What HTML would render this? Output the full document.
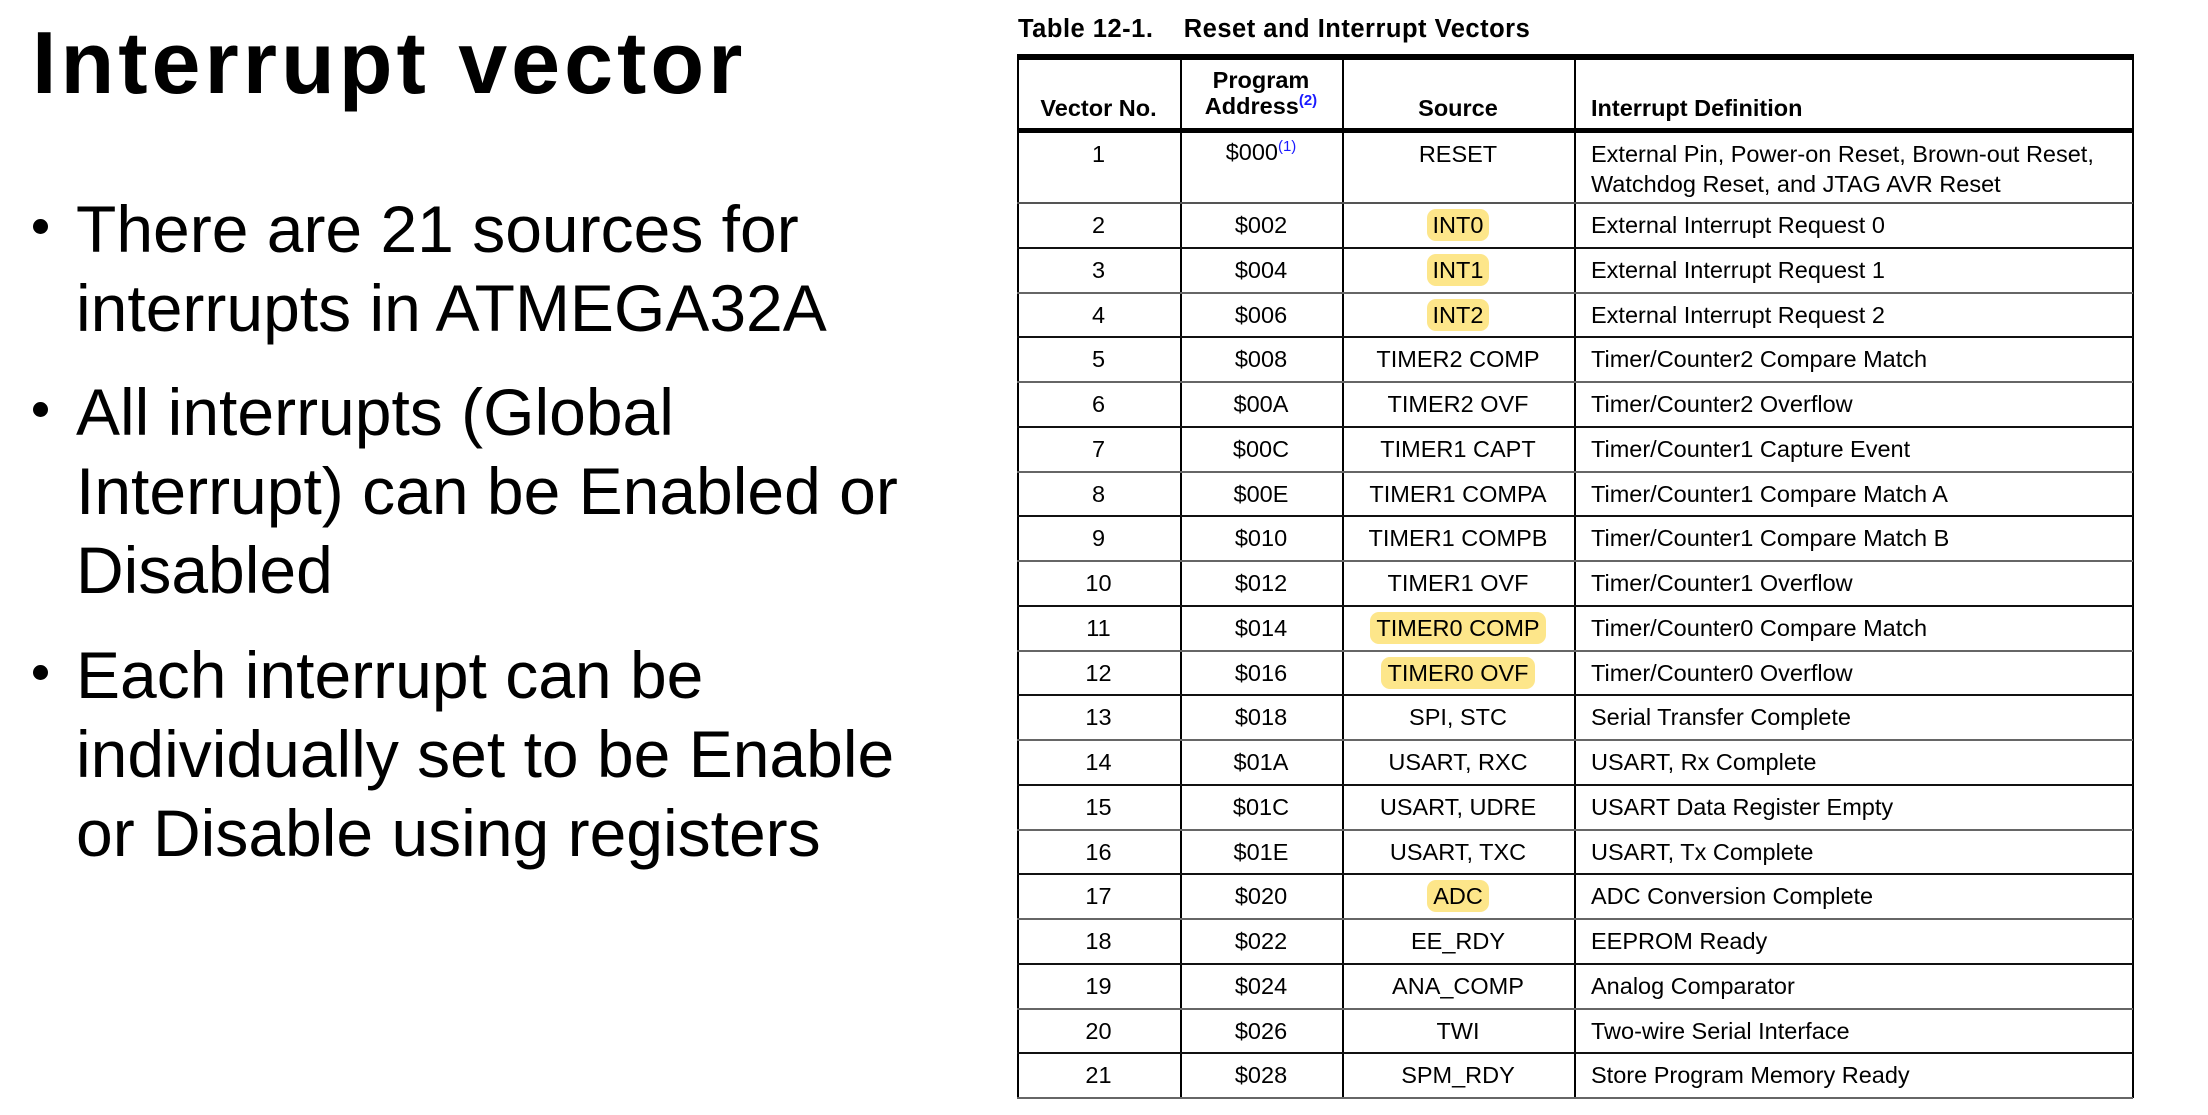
<!DOCTYPE html>
<html><head><meta charset="utf-8">
<style>
html,body{margin:0;padding:0;background:#fff;}
body{width:2208px;height:1115px;position:relative;overflow:hidden;font-family:"Liberation Sans",sans-serif;color:#000;}
.title{position:absolute;left:32px;top:12px;font-size:88px;font-weight:bold;letter-spacing:4px;white-space:nowrap;}
.bl{position:absolute;left:76px;font-size:66px;white-space:nowrap;line-height:79px;}
.dot{position:absolute;left:33px;width:15px;height:15px;border-radius:50%;background:#000;}
.tt{position:absolute;left:1018px;top:15px;font-size:25.5px;font-weight:bold;white-space:nowrap;letter-spacing:0.5px;}
.c{position:absolute;font-size:23.5px;white-space:nowrap;}
.hl{background:#fde68a;border-radius:9px;padding:3px 6px;}
.h{font-weight:bold;}
.ln{position:absolute;background:#000;}
sup{color:#1a1aff;font-size:15px;}
</style></head><body>
<div class="title">Interrupt vector</div>
<div class="dot" style="top:219px"></div>
<div class="bl" style="top:190px">There are 21 sources for<br>interrupts in ATMEGA32A</div>
<div class="dot" style="top:402px"></div>
<div class="bl" style="top:373px">All interrupts (Global<br>Interrupt) can be Enabled or<br>Disabled</div>
<div class="dot" style="top:665px"></div>
<div class="bl" style="top:636px">Each interrupt can be<br>individually set to be Enable<br>or Disable using registers</div>

<div class="tt">Table 12-1.&nbsp;&nbsp;&nbsp;&nbsp;Reset and Interrupt Vectors</div>
<div id="tbl"></div>
<script>
const vecs=["2","3","4","5","6","7","8","9","10","11","12","13","14","15","16","17","18","19","20","21"];
const addrs=["$002","$004","$006","$008","$00A","$00C","$00E","$010","$012","$014","$016","$018","$01A","$01C","$01E","$020","$022","$024","$026","$028"];
const srcs=["INT0","INT1","INT2","TIMER2 COMP","TIMER2 OVF","TIMER1 CAPT","TIMER1 COMPA","TIMER1 COMPB","TIMER1 OVF","TIMER0 COMP","TIMER0 OVF","SPI, STC","USART, RXC","USART, UDRE","USART, TXC","ADC","EE_RDY","ANA_COMP","TWI","SPM_RDY"];
const defs=["External Interrupt Request 0","External Interrupt Request 1","External Interrupt Request 2","Timer/Counter2 Compare Match","Timer/Counter2 Overflow","Timer/Counter1 Capture Event","Timer/Counter1 Compare Match A","Timer/Counter1 Compare Match B","Timer/Counter1 Overflow","Timer/Counter0 Compare Match","Timer/Counter0 Overflow","Serial Transfer Complete","USART, Rx Complete","USART Data Register Empty","USART, Tx Complete","ADC Conversion Complete","EEPROM Ready","Analog Comparator","Two-wire Serial Interface","Store Program Memory Ready"];
const highlighted=["INT0","INT1","INT2","TIMER0 COMP","TIMER0 OVF","ADC"];
const T=document.getElementById('tbl');
const cols=[1017,1180,1342,1574,2132];
const defX=1591;
function line(x,y,w,h,name,col){const d=document.createElement('div');d.className='ln';d.style.cssText=`left:${x}px;top:${y}px;width:${w}px;height:${h}px;`+(col?`background:${col};`:'');


T.appendChild(d);}
function cell(html,x,w,y,align,cls,name){const d=document.createElement('div');d.className='c '+(cls||'');d.innerHTML=html;
d.style.top=y+'px';
if(align==='c'){d.style.left=x+'px';d.style.width=w+'px';d.style.textAlign='center';}else{d.style.left=x+'px';}


T.appendChild(d);}
const top0=54, hdrB=128, r1B=203, rowH=44.75;
const bottom=r1B+rowH*vecs.length;
line(cols[0],top0,cols[4]-cols[0]+1,6,'table-top-rule');
line(cols[0],hdrB,cols[4]-cols[0]+1,5,'header-rule');
cols.forEach((x,i)=>line(x,top0,1.5,bottom-top0,'column-rule-'+i));
cell('Vector No.',cols[0],cols[1]-cols[0],95,'c','h','header-vector-no');
cell('Program',cols[1],cols[2]-cols[1],67,'c','h','header-program');
cell('Address<sup>(2)</sup>',cols[1],cols[2]-cols[1],92,'c','h','header-address');
cell('Source',cols[2],cols[3]-cols[2],95,'c','h','header-source');
cell('Interrupt Definition',defX,0,95,'l','h','header-definition');
cell('1',cols[0],cols[1]-cols[0],141,'c','','vector-1');
cell('$000<sup>(1)</sup>',cols[1],cols[2]-cols[1],138,'c','','address-1');
cell('RESET',cols[2],cols[3]-cols[2],141,'c','','source-1');
cell('External Pin, Power-on Reset, Brown-out Reset,',defX,0,141,'l','','definition-1a');
cell('Watchdog Reset, and JTAG AVR Reset',defX,0,171,'l','','definition-1b');
line(cols[0],r1B-1,cols[4]-cols[0]+1,2,'row-rule-1','#555');
for(let i=0;i<vecs.length;i++){
  const y0=r1B+rowH*i, ty=y0+9;
  cell(vecs[i],cols[0],cols[1]-cols[0],ty,'c','','vector-'+vecs[i]);
  cell(addrs[i],cols[1],cols[2]-cols[1],ty,'c','','address-'+vecs[i]);
  const s=highlighted.includes(srcs[i])?`<span class="hl">${srcs[i]}</span>`:srcs[i];
  cell(s,cols[2],cols[3]-cols[2],ty,'c','','source-'+vecs[i]);
  cell(defs[i],defX,0,ty,'l','','definition-'+vecs[i]);
  line(cols[0],Math.round(y0+rowH)-1,cols[4]-cols[0]+1,2,'row-rule-'+vecs[i],i%2?'#666':'#111');
}
</script>
</body></html>
